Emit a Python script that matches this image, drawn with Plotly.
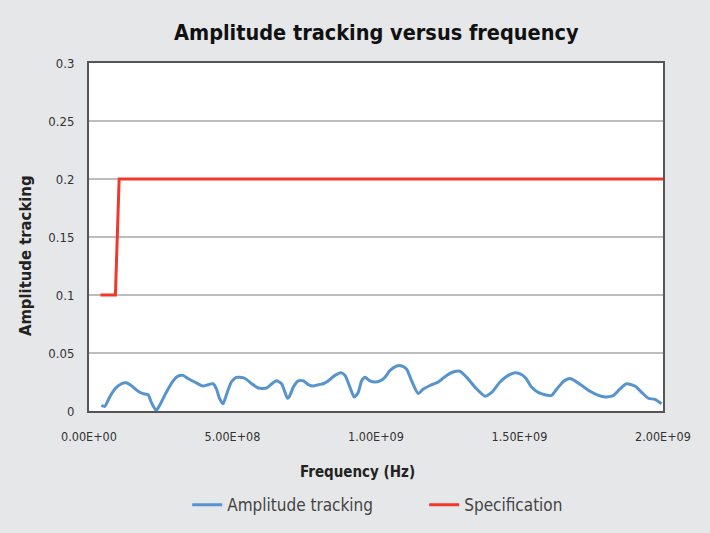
import plotly.graph_objects as go

# Amplitude tracking (frequency in MHz, value)
freq_mhz = [43, 55, 72, 90, 113, 130, 147, 171, 188, 206, 217, 234, 246, 269, 293, 310, 328, 345,
            368, 397, 415, 432, 444, 455, 467, 478, 496, 513, 526, 544, 567, 590, 619, 637, 654,
            671, 683, 692, 700, 712, 729, 747, 764, 781, 799, 816, 834, 857, 878, 892, 909, 924,
            938, 950, 962, 979, 997, 1014, 1031, 1049, 1072, 1090, 1107, 1124, 1147, 1165, 1188,
            1217, 1246, 1269, 1293, 1316, 1345, 1380, 1403, 1432, 1461, 1484, 1508, 1523, 1542,
            1565, 1589, 1612, 1630, 1653, 1676, 1693, 1717, 1746, 1775, 1798, 1827, 1850, 1873,
            1902, 1926, 1949, 1972, 1995]
amp_tracking = [0.0048, 0.004, 0.012, 0.019, 0.0235, 0.0244, 0.022, 0.017, 0.015, 0.014, 0.0076,
                0.0004, 0.0048, 0.016, 0.026, 0.030, 0.0307, 0.028, 0.025, 0.0215, 0.0227, 0.0235,
                0.019, 0.0106, 0.0062, 0.0134, 0.025, 0.029, 0.029, 0.028, 0.0235, 0.0198, 0.0198,
                0.0235, 0.026, 0.0235, 0.016, 0.011, 0.0134, 0.0206, 0.026, 0.026, 0.0227, 0.0215,
                0.0227, 0.0235, 0.026, 0.0307, 0.033, 0.0307, 0.0206, 0.012, 0.016, 0.026, 0.029,
                0.026, 0.025, 0.026, 0.029, 0.035, 0.0388, 0.0388, 0.036, 0.026, 0.015, 0.019,
                0.022, 0.025, 0.0307, 0.0336, 0.0342, 0.029, 0.0206, 0.0128, 0.016, 0.025, 0.0307,
                0.033, 0.0313, 0.028, 0.0206, 0.016, 0.014, 0.0134, 0.019, 0.0255, 0.028, 0.026,
                0.022, 0.017, 0.0134, 0.012, 0.0134, 0.019, 0.0235, 0.0215, 0.016, 0.011, 0.010,
                0.0062]

# Specification
spec_mhz = [40, 92, 105, 2000]
spec_values = [0.1, 0.1, 0.2, 0.2]

x_tick_vals = [0, 5e8, 1e9, 1.5e9, 2e9]
x_tick_text = ["0.00E+00", "5.00E+08", "1.00E+09", "1.50E+09", "2.00E+09"]
y_tick_vals = [0, 0.05, 0.1, 0.15, 0.2, 0.25, 0.3]
y_tick_text = ["0", "0.05", "0.1", "0.15", "0.2", "0.25", "0.3"]

FONT = "DejaVu Sans Condensed, Liberation Sans Narrow, sans-serif"

fig = go.Figure()
fig.add_trace(go.Scatter(
    x=[f * 1e6 for f in freq_mhz], y=amp_tracking, mode="lines",
    name="Amplitude tracking",
    line=dict(color="#5793cd", width=3, shape="spline", smoothing=0.6),
))
fig.add_trace(go.Scatter(
    x=[f * 1e6 for f in spec_mhz], y=spec_values, mode="lines",
    name="Specification",
    line=dict(color="#f2382a", width=3),
))

fig.update_layout(
    width=710, height=533,
    paper_bgcolor="#e6e7e9", plot_bgcolor="#ffffff",
    margin=dict(l=89, r=47, t=63, b=122),
    title=dict(text="<b>Amplitude tracking versus frequency</b>", x=0.53, xanchor="center",
               y=0.94, yanchor="middle",
               font=dict(family=FONT, size=21.5, color="#111111")),
    font=dict(family=FONT, color="#333333"),
    showlegend=True,
    legend=dict(orientation="h", x=0.584, xanchor="center",
                yref="container", y=0.052, yanchor="middle",
                font=dict(family=FONT, size=17, color="#444444"), bgcolor="rgba(0,0,0,0)",
                entrywidth=192, tracegroupgap=0),
    annotations=[
        dict(text="<b>Frequency (Hz)</b>", xref="paper", yref="paper",
             x=0.467, y=-0.176, xanchor="center", yanchor="middle", showarrow=False,
             font=dict(family=FONT, size=15, color="#222222")),
        dict(text="<b>Amplitude tracking</b>", xref="paper", yref="paper", textangle=-90,
             x=-0.1115, y=0.448, xanchor="center", yanchor="middle", showarrow=False,
             font=dict(family=FONT, size=16.5, color="#222222")),
    ],
)
fig.update_xaxes(
    range=[0, 2e9], tickvals=x_tick_vals, ticktext=x_tick_text,
    tickfont=dict(family=FONT, size=12.5, color="#333333"),
    showgrid=False, zeroline=False,
    showline=True, linecolor="#555555", linewidth=2, mirror=True,
    ticks="", ticklen=0, ticklabelstandoff=13,
)
fig.update_yaxes(
    range=[0, 0.3], tickvals=y_tick_vals, ticktext=y_tick_text,
    tickfont=dict(family=FONT, size=13, color="#333333"),
    showgrid=True, gridcolor="#bdbdbd", gridwidth=1.5, zeroline=False,
    showline=True, linecolor="#555555", linewidth=2, mirror=True,
    ticks="", ticklen=0, ticklabelstandoff=10,
)

fig.write_html("out.html", config={"displayModeBar": False},
               post_script="document.body.style.margin='0';")
